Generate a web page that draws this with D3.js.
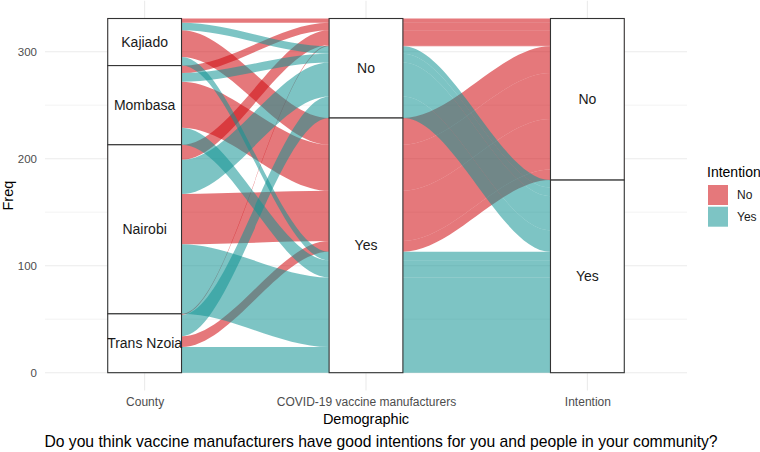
<!DOCTYPE html>
<html>
<head>
<meta charset="utf-8">
<script src="https://cdn.jsdelivr.net/npm/d3@7"></script>
<style>
  body { margin: 0; background: #fff; }
  text { font-family: "Liberation Sans", Arial, sans-serif; }
</style>
</head>
<body>
<svg width="760" height="452"></svg>
<script>
// axes of the alluvial plot and their levels
var axisNames = ["County", "COVID-19 vaccine manufacturers", "Intention"]
var counties = ["Kajiado", "Mombasa", "Nairobi", "Trans Nzoia"]
var answers = ["No", "Yes"]

// counts per county: manufacturers answer / intention answer
var noNo = [4, 7, 14, 1]
var noYes = [7, 8, 32, 20]
var yesNo = [25, 43, 47, 10]
var yesYes = [8, 16, 65, 24]

var yTicks = [0, 100, 200, 300]
var yMinor = [50, 150, 250]

var colors = { "No": "#d00a0e", "Yes": "#139494" }
var alpha = 0.55

var svg = d3.select("svg")

// panel edges
var panelL = 45, panelR = 687, panelT = 0.8, panelB = 390.4

// build one alluvium for each county / manufacturers / intention combination
var alluvia = []
counties.forEach(function (c, i) {
    alluvia.push({ county: c, manuf: "No", intention: "No", n: noNo[i] })
    alluvia.push({ county: c, manuf: "No", intention: "Yes", n: noYes[i] })
    alluvia.push({ county: c, manuf: "Yes", intention: "No", n: yesNo[i] })
    alluvia.push({ county: c, manuf: "Yes", intention: "Yes", n: yesYes[i] })
})
var total = d3.sum(alluvia, d => d.n)

var y = d3.scaleLinear()
    .domain([-total * 0.05, total * 1.05])
    .range([panelB, panelT])

var x = d3.scalePoint()
    .domain(axisNames)
    .range([panelL, panelR])
    .padding(0.45)
var w = x.step() / 3

// level index of an alluvium on each axis
function lev(d, k) {
    if (k == 0) return counties.indexOf(d.county)
    if (k == 1) return answers.indexOf(d.manuf)
    return answers.indexOf(d.intention)
}
// zigzag lode order for each axis
var orders = [[0, 1, 2], [1, 2, 0], [2, 1, 0]]

alluvia.forEach(d => d.pos = [])
orders.forEach(function (ord, k) {
    var sorted = alluvia.slice().sort(function (a, b) {
        for (var j = 0; j < ord.length; j++) {
            var diff = lev(a, ord[j]) - lev(b, ord[j])
            if (diff != 0) return diff
        }
        return 0
    })
    var cum = total
    sorted.forEach(function (d) {
        d.pos[k] = { top: cum, bot: cum - d.n }
        cum -= d.n
    })
})

// strata
var strata = []
axisNames.forEach(function (name, k) {
    var levels = k == 0 ? counties : answers
    var cum = total
    levels.forEach(function (l, li) {
        var n = d3.sum(alluvia.filter(d => lev(d, k) == li), d => d.n)
        strata.push({ axis: name, label: l, top: cum, bot: cum - n })
        cum -= n
    })
})

// grid
var grid = svg.append("g")
grid.selectAll(".minor")
    .data(yMinor)
    .enter().append("line")
    .attr("x1", panelL).attr("x2", panelR)
    .attr("y1", d => y(d)).attr("y2", d => y(d))
    .attr("stroke", "#ebebeb").attr("stroke-width", 0.6)
grid.selectAll(".major")
    .data(yTicks)
    .enter().append("line")
    .attr("x1", panelL).attr("x2", panelR)
    .attr("y1", d => y(d)).attr("y2", d => y(d))
    .attr("stroke", "#ebebeb").attr("stroke-width", 1.1)
grid.selectAll(".vert")
    .data(axisNames)
    .enter().append("line")
    .attr("x1", d => x(d)).attr("x2", d => x(d))
    .attr("y1", panelT).attr("y2", panelB)
    .attr("stroke", "#ebebeb").attr("stroke-width", 1.1)

// ribbon path through all three axes
function ribbon(d) {
    var xs = axisNames.map(a => x(a))
    var tops = d.pos.map(q => y(q.top))
    var bots = d.pos.map(q => y(q.bot))
    var p = d3.path()
    p.moveTo(xs[0] - w / 2, tops[0])
    p.lineTo(xs[0] + w / 2, tops[0])
    for (var k = 1; k < xs.length; k++) {
        var xa = xs[k - 1] + w / 2, xb = xs[k] - w / 2, dx = (xb - xa) / 3
        p.bezierCurveTo(xa + dx, tops[k - 1], xb - dx, tops[k], xb, tops[k])
        p.lineTo(xs[k] + w / 2, tops[k])
    }
    var last = xs.length - 1
    p.lineTo(xs[last] + w / 2, bots[last])
    p.lineTo(xs[last] - w / 2, bots[last])
    for (var k = last; k > 0; k--) {
        var xa = xs[k] - w / 2, xb = xs[k - 1] + w / 2, dx = (xa - xb) / 3
        p.bezierCurveTo(xa - dx, bots[k], xb + dx, bots[k - 1], xb, bots[k - 1])
        p.lineTo(xs[k - 1] - w / 2, bots[k - 1])
    }
    p.closePath()
    return p.toString()
}

// red alluvia first, teal on top
var drawOrder = alluvia.filter(d => d.intention == "No")
    .concat(alluvia.filter(d => d.intention == "Yes"))

svg.append("g").selectAll("path")
    .data(drawOrder)
    .enter().append("path")
    .attr("d", ribbon)
    .attr("fill", d => colors[d.intention])
    .attr("fill-opacity", alpha)

// strata boxes and labels
var st = svg.append("g").selectAll("g")
    .data(strata)
    .enter().append("g")

st.append("rect")
    .attr("x", d => x(d.axis) - w / 2)
    .attr("width", w)
    .attr("y", d => y(d.top))
    .attr("height", d => y(d.bot) - y(d.top))
    .attr("fill", "#fff")
    .attr("stroke", "#333")
    .attr("stroke-width", 1.1)

st.append("text")
    .attr("x", d => x(d.axis))
    .attr("y", d => (y(d.top) + y(d.bot)) / 2)
    .attr("dy", "0.35em")
    .attr("text-anchor", "middle")
    .attr("font-size", 14)
    .attr("fill", "#1a1a1a")
    .text(d => d.label)

// axes
var yAxis = svg.append("g")
    .attr("transform", "translate(" + panelL + ",0)")
    .call(d3.axisLeft(y).tickValues(yTicks).tickSize(0).tickPadding(8))
yAxis.select(".domain").remove()
yAxis.selectAll("text")
    .attr("font-size", 11.5)
    .attr("font-family", "Liberation Sans, Arial, sans-serif")
    .attr("fill", "#4d4d4d")

var xAxis = svg.append("g")
    .attr("transform", "translate(0," + panelB + ")")
    .call(d3.axisBottom(x).tickSize(0).tickPadding(7))
xAxis.select(".domain").remove()
xAxis.selectAll("text")
    .attr("font-size", 12)
    .attr("font-family", "Liberation Sans, Arial, sans-serif")
    .attr("fill", "#4d4d4d")

svg.append("text")
    .attr("x", x("COVID-19 vaccine manufacturers"))
    .attr("y", 424)
    .attr("text-anchor", "middle")
    .attr("font-size", 14.5)
    .attr("fill", "#000")
    .text("Demographic")

svg.append("text")
    .attr("transform", "translate(13," + (panelT + panelB) / 2 + ") rotate(-90)")
    .attr("text-anchor", "middle")
    .attr("font-size", 14.5)
    .attr("fill", "#000")
    .text("Freq")

svg.append("text")
    .attr("x", 381)
    .attr("y", 447)
    .attr("text-anchor", "middle")
    .attr("font-size", 15.7)
    .attr("fill", "#000")
    .text("Do you think vaccine manufacturers have good intentions for you and people in your community?")

// legend
var legend = svg.append("g").attr("transform", "translate(707,0)")
legend.append("text")
    .attr("x", 0).attr("y", 177)
    .attr("font-size", 14)
    .attr("fill", "#000")
    .text("Intention")
var keys = legend.selectAll(".key")
    .data(answers)
    .enter().append("g")
    .attr("transform", (d, i) => "translate(1," + (185 + i * 21.7) + ")")
keys.append("rect")
    .attr("width", 20).attr("height", 20)
    .attr("fill", d => colors[d])
    .attr("fill-opacity", alpha)
keys.append("text")
    .attr("x", 29).attr("y", 10)
    .attr("dy", "0.35em")
    .attr("font-size", 12)
    .attr("fill", "#1a1a1a")
    .text(d => d)
</script>
</body>
</html>
